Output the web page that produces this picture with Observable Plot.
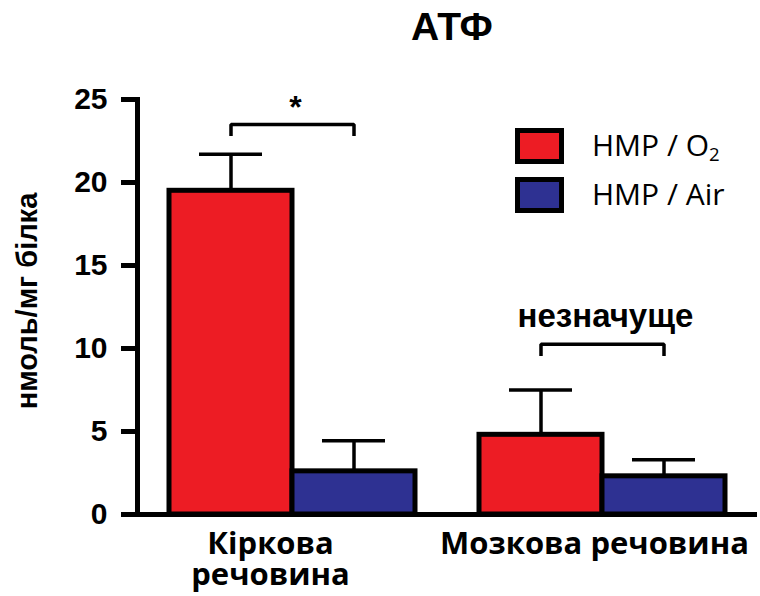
<!DOCTYPE html>
<html>
<head>
<meta charset="utf-8">
<script src="https://cdn.jsdelivr.net/npm/d3@7"></script>
<script src="https://cdn.jsdelivr.net/npm/@observablehq/plot@0.6"></script>
<style>
  html, body { margin: 0; padding: 0; background: #fff; }
  #wrap { position: relative; width: 760px; height: 596px; overflow: hidden; }
  #title { position: absolute; left: 0; width: 904px; top: 7px; text-align: center;
           font: bold 39px "Liberation Sans", Arial, sans-serif; line-height: 1; color: #000; }
  .sw { position: absolute; box-sizing: border-box; border: 5px solid #000; width: 49px; }
  .lt { position: absolute; font: 30px "Open Sans", sans-serif; line-height: 1; color: #000; white-space: nowrap; }
  .lt sub { font-size: 0.62em; vertical-align: -0.28em; line-height: 0; }
</style>
</head>
<body>
<div id="wrap">
  <div id="chart"></div>
  <div id="title"></div>
</div>
<script>
// ---- data ----
const title = "АТФ";
const yLabel = "нмоль/мг білка";
const regions = ["Кіркова речовина", "Мозкова речовина"];
const regionLabels = ["Кіркова\nречовина", "Мозкова речовина"];
const series = ["HMP / O2", "HMP / Air"];
const seriesLegend = ["HMP / O<sub>2</sub>", "HMP / Air"];
const colors = ["#ED1C24", "#2E3192"];
const meanO2 = [19.5, 4.8];
const meanAir = [2.6, 2.3];
const errO2 = [2.2, 2.7];
const errAir = [1.85, 1.0];
const sigLabels = ["*", "незначуще"];
const bracketLevel = [23.5, 10.25];
const yTicks = [0, 5, 10, 15, 20, 25];

// ---- tables ----
const data = regions.flatMap((r, i) => [
  {region: r, series: series[0], value: meanO2[i], err: errO2[i]},
  {region: r, series: series[1], value: meanAir[i], err: errAir[i]}
]);
const drop = 0.7;
const bracketData = regions.flatMap((r, i) => [
  {region: r, series: series[0], y: bracketLevel[i] - drop},
  {region: r, series: series[0], y: bracketLevel[i]},
  {region: r, series: series[1], y: bracketLevel[i]},
  {region: r, series: series[1], y: bracketLevel[i] - drop}
]);
const sigData = regions.map((r, i) => ({region: r, level: bracketLevel[i], label: sigLabels[i]}));
const catData = regions.map((r, i) => ({region: r, label: regionLabels[i]}));

const catStyle = {fx: "region", text: "label", frameAnchor: "bottom", lineAnchor: "top", dy: 17,
  lineHeight: 1.0, fontSize: 31, fontWeight: "bold", fontFamily: "'Open Sans', sans-serif"};

const chart = Plot.plot({
  width: 760,
  height: 596,
  marginLeft: 137,
  marginRight: 3,
  marginTop: 99,
  marginBottom: 82,
  style: {fontFamily: "'Liberation Sans', Arial, sans-serif", color: "#000", background: "#fff", overflow: "visible"},
  fx: {domain: regions, padding: 0, axis: null},
  x: {domain: series, paddingInner: 0, paddingOuter: 0.26, axis: null},
  y: {domain: [0, 25], axis: null},
  color: {domain: series, range: colors},
  marks: [
    Plot.barY(data, {fx: "region", x: "series", y: "value", fill: "series", stroke: "#000", strokeWidth: 5}),
    Plot.ruleX(data, {fx: "region", x: "series", y1: "value", y2: d => d.value + d.err, stroke: "#000", strokeWidth: 3.5}),
    Plot.tickY(data, {fx: "region", x: "series", y: d => d.value + d.err, insetLeft: 30, insetRight: 30, stroke: "#000", strokeWidth: 3.5}),
    Plot.line(bracketData, {fx: "region", x: "series", y: "y", z: "region", stroke: "#000", strokeWidth: 3.5, strokeLinejoin: "miter", strokeLinecap: "butt"}),
    Plot.text(sigData.slice(0, 1), {fx: "region", y: "level", text: "label", lineAnchor: "bottom", dx: 3, dy: -6, fontSize: 32, fontWeight: "bold"}),
    Plot.text(sigData.slice(1), {fx: "region", y: "level", text: "label", lineAnchor: "bottom", dx: 3, dy: -17, fontSize: 33, fontWeight: "bold"}),
    Plot.ruleY([0], {stroke: "#000", strokeWidth: 5}),
    Plot.frame({anchor: "left", facetAnchor: "left", stroke: "#000", strokeWidth: 5, strokeLinecap: "square"}),
    Plot.axisY({ticks: yTicks, tickSize: 16, tickPadding: 14, fontSize: 30, fontWeight: "bold", stroke: "#000", strokeWidth: 5, label: null}),
    Plot.text([yLabel], {text: d => d, frameAnchor: "left", facetAnchor: "left", textAnchor: "middle", rotate: -90, dx: -101, dy: -6, lineAnchor: "bottom", fontSize: 29, fontWeight: "bold"}),
    Plot.text(catData.slice(0, 1), {...catStyle, dx: -22}),
    Plot.text(catData.slice(1), {...catStyle, dx: -8})
  ]
});
document.getElementById("chart").appendChild(chart);
document.getElementById("title").textContent = title;

// legend
const wrap = document.getElementById("wrap");
const swTops = [128, 177];
series.forEach((s, i) => {
  const sw = document.createElement("div");
  sw.className = "sw";
  sw.style.left = "515px";
  sw.style.top = swTops[i] + "px";
  sw.style.height = "36px";
  sw.style.background = colors[i];
  wrap.appendChild(sw);
  const t = document.createElement("div");
  t.className = "lt";
  t.style.left = "592px";
  t.style.top = (swTops[i] + 2) + "px";
  t.innerHTML = seriesLegend[i];
  wrap.appendChild(t);
});
</script>
</body>
</html>
